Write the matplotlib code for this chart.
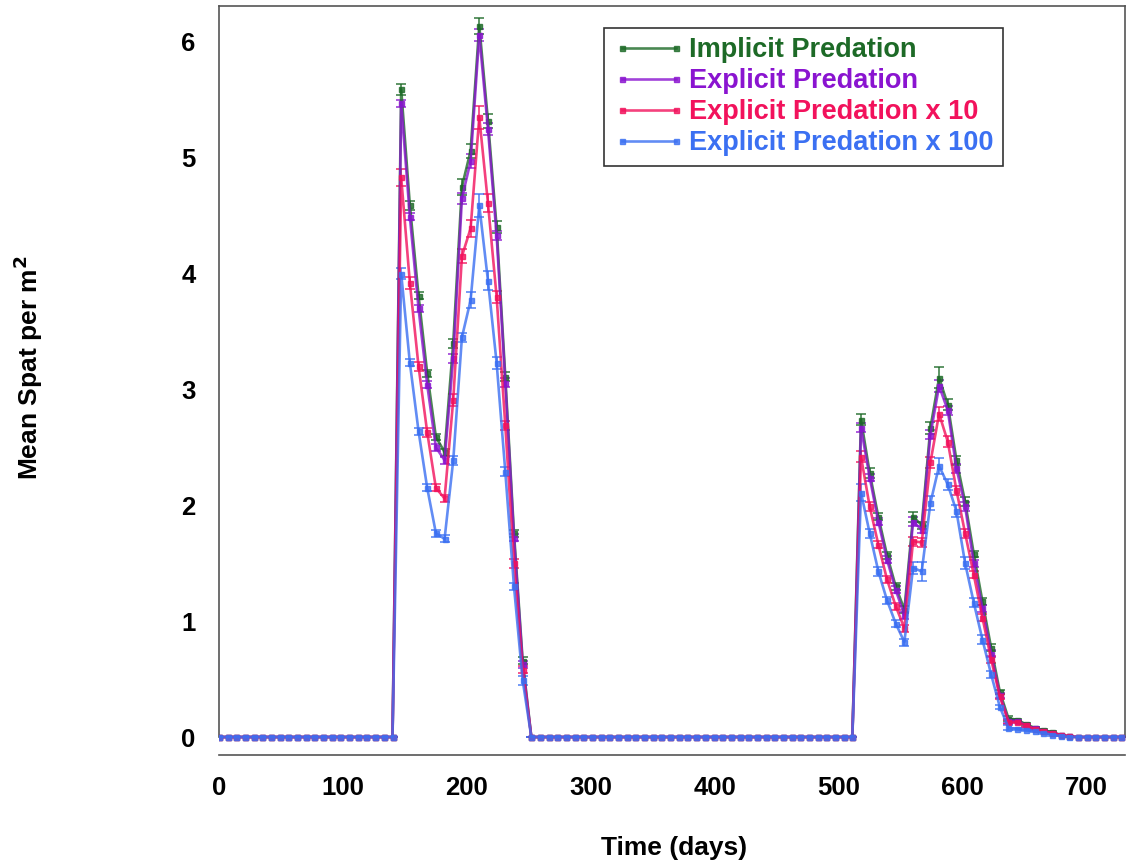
import numpy as np
import matplotlib
matplotlib.use("Agg")
import matplotlib.pyplot as plt

# ---- data -------------------------------------------------------------
days = np.arange(0, 735, 7)          # weekly samples, 0 .. 728

series_names = ["Implicit Predation", "Explicit Predation",
                "Explicit Predation x 10", "Explicit Predation x 100"]

# values (days 147..245 and 518..686); other weeks are 0
implicit_s1 = [5.59, 4.59, 3.81, 3.14, 2.59, 2.46, 3.40, 4.75, 5.06, 6.14, 5.32, 4.40, 3.11, 1.76, 0.66]
explicit_s1 = [5.47, 4.49, 3.70, 3.04, 2.50, 2.39, 3.27, 4.65, 4.97, 6.06, 5.25, 4.33, 3.06, 1.72, 0.63]
x10_s1      = [4.83, 3.92, 3.20, 2.63, 2.15, 2.06, 2.91, 4.15, 4.39, 5.35, 4.61, 3.80, 2.69, 1.50, 0.58]
x100_s1     = [4.00, 3.23, 2.64, 2.15, 1.76, 1.71, 2.39, 3.45, 3.77, 4.59, 3.94, 3.23, 2.29, 1.30, 0.49]

implicit_s2 = [2.74, 2.28, 1.90, 1.57, 1.30, 1.10, 1.90, 1.83, 2.67, 3.10, 2.87, 2.39, 2.03,
               1.58, 1.17, 0.77, 0.39, 0.16, 0.15, 0.11, 0.08, 0.06, 0.04, 0.02, 0.005]
explicit_s2 = [2.67, 2.24, 1.86, 1.53, 1.27, 1.05, 1.86, 1.79, 2.61, 3.03, 2.82, 2.32, 1.99,
               1.50, 1.11, 0.72, 0.36, 0.14, 0.14, 0.10, 0.075, 0.055, 0.035, 0.02, 0.005]
x10_s2      = [2.42, 1.99, 1.66, 1.36, 1.13, 0.94, 1.69, 1.68, 2.37, 2.79, 2.55, 2.13, 1.76,
               1.40, 1.03, 0.67, 0.35, 0.13, 0.13, 0.10, 0.07, 0.05, 0.035, 0.02, 0.005]
x100_s2     = [2.11, 1.76, 1.43, 1.18, 0.98, 0.82, 1.46, 1.43, 2.02, 2.34, 2.18, 1.95, 1.50,
               1.16, 0.84, 0.54, 0.26, 0.08, 0.07, 0.06, 0.05, 0.035, 0.02, 0.01, 0.0]

implicit_e1 = [0.05, 0.04, 0.03, 0.03, 0.03, 0.03, 0.04, 0.07, 0.06, 0.07, 0.06, 0.05, 0.04, 0.03, 0.03]
explicit_e1 = [0.03, 0.03, 0.03, 0.03, 0.03, 0.03, 0.04, 0.05, 0.06, 0.05, 0.05, 0.04, 0.04, 0.03, 0.03]
x10_e1      = [0.07, 0.05, 0.04, 0.04, 0.03, 0.03, 0.05, 0.06, 0.07, 0.10, 0.08, 0.05, 0.04, 0.04, 0.03]
x100_e1     = [0.05, 0.03, 0.03, 0.03, 0.03, 0.03, 0.04, 0.04, 0.07, 0.10, 0.08, 0.05, 0.04, 0.03, 0.04]

implicit_e2 = [0.05, 0.04, 0.03, 0.03, 0.03, 0.03, 0.04, 0.03, 0.05, 0.09, 0.05, 0.04, 0.04,
               0.03, 0.03, 0.03, 0.02, 0.02, 0.01, 0.01, 0.01, 0.01, 0.01, 0.0, 0.0]
explicit_e2 = [0.04, 0.03, 0.03, 0.03, 0.03, 0.03, 0.04, 0.03, 0.04, 0.05, 0.04, 0.04, 0.04,
               0.03, 0.03, 0.03, 0.02, 0.02, 0.01, 0.01, 0.01, 0.01, 0.01, 0.0, 0.0]
x10_e2      = [0.05, 0.04, 0.03, 0.03, 0.03, 0.03, 0.04, 0.04, 0.05, 0.06, 0.05, 0.04, 0.04,
               0.03, 0.03, 0.03, 0.02, 0.02, 0.01, 0.01, 0.01, 0.01, 0.01, 0.0, 0.0]
x100_e2     = [0.07, 0.04, 0.04, 0.03, 0.03, 0.03, 0.05, 0.08, 0.06, 0.07, 0.05, 0.05, 0.05,
               0.04, 0.04, 0.03, 0.02, 0.02, 0.01, 0.01, 0.01, 0.01, 0.01, 0.0, 0.0]

zeros_pre = [0.0] * 21    # days 0..140
zeros_mid = [0.0] * 38    # days 252..511
zeros_post = [0.0] * 6    # days 693..728


def full(s1, s2):
    return np.array(zeros_pre + s1 + zeros_mid + s2 + zeros_post)


values = [full(implicit_s1, implicit_s2), full(explicit_s1, explicit_s2),
          full(x10_s1, x10_s2), full(x100_s1, x100_s2)]
errors = [full(implicit_e1, implicit_e2), full(explicit_e1, explicit_e2),
          full(x10_e1, x10_e2), full(x100_e1, x100_e2)]

colors = ["#1d6a27", "#8a14d0", "#f2125c", "#3b70f2"]

x_ticks = [0, 100, 200, 300, 400, 500, 600, 700]
y_ticks = [0, 1, 2, 3, 4, 5, 6]

# ---- figure -----------------------------------------------------------
plt.rcParams['font.family'] = ['Liberation Sans', 'DejaVu Sans']
W, H = 1128, 867
fig = plt.figure(figsize=(W / 100, H / 100), dpi=100)
ax = fig.add_axes([219 / W, 1 - 755 / H, (1125 - 219) / W, (755 - 6) / H])

handles = []
for v, e, c, name in zip(values, errors, colors, series_names):
    ax.errorbar(days, v, yerr=e, fmt='none', ecolor=c, elinewidth=1.1,
                capsize=3.8, capthick=1.1, alpha=0.9, zorder=2)
    ln, = ax.plot(days, v, color=c, lw=1.9, marker='s', markersize=3.6,
                  alpha=0.8, label=name, zorder=3)
    handles.append(ln)

ymin, ymax = -0.155, 6.31
ax.set_xlim(0, 731)
ax.set_ylim(ymin, ymax)
ax.set_xticks(x_ticks)
ax.set_yticks(y_ticks)
ax.tick_params(length=0, labelsize=18.5)
ax.tick_params(axis='x', pad=15)
ax.tick_params(axis='y', pad=17)
for lab in ax.get_xticklabels() + ax.get_yticklabels():
    lab.set_fontweight('bold')

for s in ax.spines.values():
    s.set_color('#555555')
    s.set_linewidth(1.2)
ax.spines['left'].set_bounds(0, ymax)
ax.spines['right'].set_bounds(0, ymax)

fig.text(674 / W, 1 - 848 / H, 'Time (days)', ha='center', va='center',
         fontsize=19, fontweight='bold')
fig.text(28 / W, 1 - 368 / H, 'Mean Spat per m$^{\\mathbf{2}}$', rotation=90,
         ha='center', va='center', fontsize=19, fontweight='bold')

leg = ax.legend(handles=handles, loc='upper left',
                bbox_to_anchor=((604 - 219) / (1125 - 219), 1 - (28 - 6) / (755 - 6)),
                frameon=True, fancybox=False, edgecolor='black', fontsize=19.5,
                handlelength=2.6, handletextpad=0.2, labelspacing=0.18,
                borderpad=0.35, borderaxespad=0, numpoints=2)
leg.get_frame().set_linewidth(1.2)
for t, c in zip(leg.get_texts(), colors):
    t.set_color(c)
    t.set_fontweight('bold')

fig.savefig('out.png', dpi=100)
